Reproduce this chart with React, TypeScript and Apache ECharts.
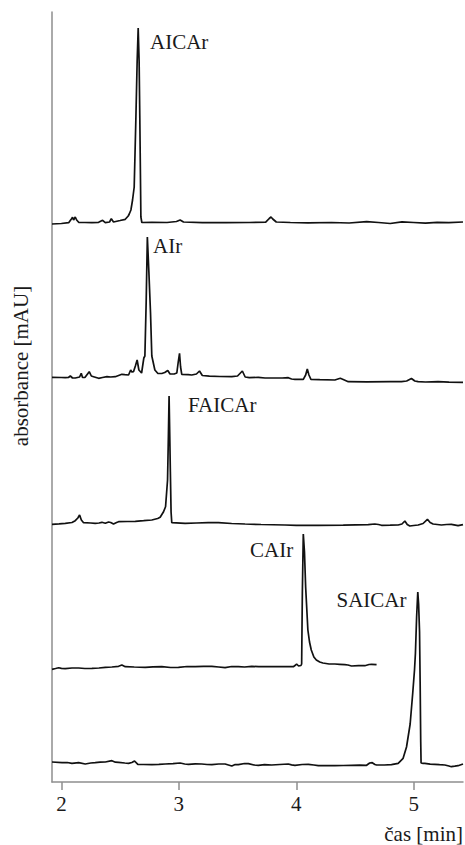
import React, { useEffect, useRef } from "react";
import * as echarts from "echarts";

// time axis [min]
const X_MIN = 1.92;
const X_MAX = 5.42;
const xTicks = [2, 3, 4, 5];
// stacked absorbance scale (arbitrary offset units)
const Y_MIN = 0;
const Y_MAX = 770;

const AICAr: [number, number][] = [
  [1.92, 558], [2.0, 558.5], [2.062, 559.3], [2.085, 563], [2.095, 564.7], [2.104, 562], [2.118, 565], [2.13, 562],
  [2.147, 559.7], [2.2, 559.5], [2.26, 559.3], [2.317, 559.7], [2.351, 561.7], [2.374, 559.3], [2.41, 560], [2.425, 563.3],
  [2.444, 560], [2.5, 561.5], [2.544, 562.7], [2.569, 566], [2.578, 568], [2.592, 572], [2.606, 582], [2.62, 595],
  [2.634, 662], [2.645, 720], [2.654, 754], [2.662, 720], [2.668, 662], [2.677, 565], [2.685, 559.5], [2.77, 559.7],
  [2.9, 559.5], [2.98, 560.5], [3.011, 562], [3.04, 560], [3.2, 559.3], [3.4, 559.3], [3.6, 559.5], [3.74, 559.8],
  [3.77, 563.5], [3.785, 565], [3.8, 563], [3.83, 560], [3.95, 559.5], [4.1, 559.2], [4.3, 559.5], [4.45, 559.0],
  [4.6, 560.3], [4.7, 559.5], [4.8, 558.5], [4.9, 560.2], [5.0, 559.5], [5.1, 558.8], [5.2, 559.7], [5.3, 559.3], [5.42, 560],
];

const AIr: [number, number][] = [
  [1.92, 404.7], [2.0, 404.5], [2.033, 404.3], [2.06, 404.5], [2.076, 406], [2.095, 404], [2.118, 404], [2.155, 405],
  [2.169, 408.7], [2.18, 404.5], [2.2, 404.5], [2.237, 410.3], [2.255, 406], [2.274, 405.3], [2.317, 403.7], [2.35, 404.5],
  [2.388, 405.3], [2.42, 405], [2.459, 405.3], [2.515, 407.7], [2.54, 407.3], [2.572, 407], [2.59, 412], [2.6, 410],
  [2.614, 410.3], [2.63, 416], [2.645, 422], [2.66, 412], [2.683, 409], [2.702, 424], [2.711, 426], [2.722, 480],
  [2.732, 545], [2.745, 510], [2.759, 469], [2.77, 426], [2.796, 412], [2.82, 408.7], [2.855, 408.5], [2.88, 409.5],
  [2.906, 411.5], [2.925, 408], [2.96, 408], [2.983, 409], [2.995, 420], [3.006, 428.7], [3.015, 415], [3.025, 407.7],
  [3.08, 407.3], [3.11, 407], [3.15, 408], [3.176, 411], [3.2, 406.5], [3.26, 405.8], [3.35, 405.5], [3.451, 405.3],
  [3.5, 406], [3.541, 411], [3.565, 405], [3.6, 404.3], [3.677, 404.7], [3.734, 404], [3.8, 404], [3.88, 404],
  [3.932, 404.3], [3.96, 403], [3.989, 402.7], [4.06, 402.7], [4.08, 407], [4.094, 413], [4.108, 407], [4.125, 402.7],
  [4.2, 402.3], [4.329, 402], [4.375, 403.7], [4.4, 402.5], [4.443, 400.3], [4.6, 400.2], [4.8, 400.3], [4.896, 400.3],
  [4.94, 401], [4.981, 403.5], [5.01, 401], [5.038, 400.3], [5.1, 400], [5.208, 400.3], [5.3, 399.8], [5.42, 399.7],
];

const FAICAr: [number, number][] = [
  [1.92, 257.7], [1.98, 258.2], [2.033, 258.7], [2.09, 259.5], [2.118, 261.3], [2.14, 264], [2.155, 267], [2.17, 262],
  [2.189, 259.3], [2.25, 259], [2.288, 258.7], [2.32, 259], [2.345, 259.7], [2.374, 258.7], [2.402, 260], [2.42, 259.5],
  [2.444, 258], [2.47, 259.5], [2.487, 260.3], [2.56, 260.5], [2.629, 260.7], [2.7, 261.3], [2.77, 262], [2.82, 263.5],
  [2.841, 264.7], [2.87, 270.3], [2.887, 275.3], [2.904, 302], [2.911, 345], [2.917, 386], [2.923, 345], [2.928, 310],
  [2.934, 270], [2.94, 259.3], [3.054, 258.7], [3.15, 259], [3.25, 259.3], [3.337, 259.3], [3.45, 258.5], [3.564, 258],
  [3.7, 257.5], [3.904, 257], [4.0, 256.7], [4.188, 256.7], [4.4, 256.8], [4.613, 257.3], [4.669, 258], [4.7, 257.5],
  [4.726, 256.7], [4.8, 256.8], [4.868, 257], [4.9, 258], [4.925, 261], [4.945, 257.5], [4.967, 256], [5.0, 256.5],
  [5.038, 257], [5.08, 258.5], [5.117, 262.7], [5.14, 259.5], [5.165, 258], [5.236, 257], [5.28, 257.5], [5.321, 257.7],
  [5.378, 256.3], [5.42, 257.3],
];

const CAIr: [number, number][] = [
  [1.92, 112.7], [1.95, 113.5], [1.977, 114.3], [2.0, 113.6], [2.033, 113.3], [2.09, 114], [2.147, 114], [2.2, 113.5],
  [2.26, 113.7], [2.32, 114], [2.374, 114.7], [2.43, 115], [2.487, 115.7], [2.515, 117], [2.544, 115.3], [2.62, 115],
  [2.714, 114.7], [2.78, 115.2], [2.855, 115.3], [2.93, 114.5], [2.997, 114.7], [3.07, 115.5], [3.139, 115.3], [3.21, 115.6],
  [3.281, 115.7], [3.34, 115], [3.394, 114.3], [3.45, 115.5], [3.507, 115.3], [3.56, 115], [3.621, 115.7], [3.68, 115.3],
  [3.734, 115.3], [3.82, 115.5], [3.904, 115.3], [3.975, 115.3], [3.995, 117], [4.003, 118], [4.02, 116], [4.04, 116.5],
  [4.046, 118], [4.052, 190], [4.06, 248], [4.07, 230], [4.08, 195], [4.099, 152], [4.113, 140], [4.128, 132],
  [4.15, 125], [4.171, 122], [4.2, 120], [4.227, 119], [4.28, 118], [4.329, 118], [4.37, 117.7], [4.414, 117.3],
  [4.44, 117], [4.471, 116], [4.53, 116.3], [4.584, 116.3], [4.62, 117.5], [4.641, 117.7], [4.684, 117.3],
];

const SAICAr: [number, number][] = [
  [1.92, 20], [2.005, 19.3], [2.05, 19.5], [2.09, 18.7], [2.147, 19.3], [2.203, 18], [2.25, 19], [2.288, 19.3],
  [2.33, 19.8], [2.374, 20], [2.43, 21.3], [2.46, 19.8], [2.487, 19.7], [2.54, 19], [2.572, 18.7], [2.6, 19.5],
  [2.623, 21], [2.651, 17.7], [2.7, 17.5], [2.77, 17.3], [2.83, 17.6], [2.884, 18], [2.95, 18.3], [3.011, 19],
  [3.05, 18], [3.082, 17.7], [3.14, 18.2], [3.195, 18], [3.24, 17.5], [3.281, 17.3], [3.34, 18], [3.394, 18],
  [3.451, 16], [3.48, 17.5], [3.507, 17.3], [3.56, 18.5], [3.592, 18.3], [3.64, 17], [3.677, 16.7], [3.73, 17.3],
  [3.791, 17], [3.86, 17.5], [3.932, 18], [3.96, 17.2], [3.989, 16.7], [4.05, 17.5], [4.103, 17.7], [4.15, 17],
  [4.188, 16.3], [4.26, 16.5], [4.329, 16.3], [4.4, 16.5], [4.471, 16.7], [4.54, 16.8], [4.599, 16.7], [4.625, 19],
  [4.647, 19.3], [4.67, 17.5], [4.684, 17], [4.75, 17], [4.811, 17.3], [4.868, 18.7], [4.91, 23.7], [4.939, 35],
  [4.97, 58], [4.992, 89], [5.007, 112], [5.015, 129], [5.025, 165], [5.035, 190], [5.042, 178], [5.05, 150],
  [5.055, 100], [5.06, 40], [5.063, 19], [5.08, 18.7], [5.095, 18.7], [5.14, 17.8], [5.18, 17.7], [5.22, 17.3],
  [5.265, 17], [5.3, 16], [5.321, 15.3], [5.35, 15.8], [5.378, 16.3], [5.42, 18],
];

const traceNames = ["AICAr", "AIr", "FAICAr", "CAIr", "SAICAr"];
const traceData = [AICAr, AIr, FAICAr, CAIr, SAICAr];

const yAxisTitle = "absorbance [mAU]";
const xAxisTitle = "čas [min]";

const FONT = "Liberation Serif";
const AXIS_COLOR = "#8e8e8e";
const TEXT_COLOR = "#1a1a1a";

export default function App() {
  const ref = useRef<HTMLDivElement>(null);

  useEffect(() => {
    document.body.style.margin = "0";
    if (!ref.current) return;
    const chart = echarts.init(ref.current, undefined, { renderer: "svg" });

    const labelPos = [
      { x: 150, y: 41.5 },
      { x: 153, y: 245.5 },
      { x: 188, y: 405 },
      { x: 250, y: 549.5 },
      { x: 336.5, y: 600 },
    ];

    const textStyle = (text: string, align: string) => ({
      text,
      fontFamily: FONT,
      fontSize: 21,
      fill: TEXT_COLOR,
      textAlign: align,
      textVerticalAlign: "middle",
    });

    const option: any = {
      animation: false,
      textStyle: { fontFamily: FONT },
      grid: { left: 52, right: 2, top: 12, bottom: 63 },
      xAxis: {
        type: "value",
        min: X_MIN,
        max: X_MAX,
        axisLine: { show: true, onZero: false, lineStyle: { color: AXIS_COLOR, width: 1.5 } },
        axisTick: {
          show: true,
          length: 8,
          inside: false,
          customValues: xTicks,
          lineStyle: { color: AXIS_COLOR, width: 1.5 },
        },
        axisLabel: {
          customValues: xTicks,
          margin: 11,
          fontFamily: FONT,
          fontSize: 21,
          color: TEXT_COLOR,
        },
        splitLine: { show: false },
      },
      yAxis: {
        type: "value",
        min: Y_MIN,
        max: Y_MAX,
        axisLine: { show: true, onZero: false, lineStyle: { color: AXIS_COLOR, width: 1.5 } },
        axisTick: { show: false },
        axisLabel: { show: false },
        splitLine: { show: false },
      },
      series: traceData.map((d, i) => ({
        type: "line",
        name: traceNames[i],
        data: d,
        symbol: "none",
        showSymbol: false,
        silent: true,
        lineStyle: { color: "#111", width: 1.7 },
      })),
      graphic: [
        ...traceNames.map((n, i) => ({
          type: "text",
          x: labelPos[i].x,
          y: labelPos[i].y,
          silent: true,
          style: textStyle(n, "left"),
        })),
        {
          type: "text",
          x: 21,
          y: 366,
          rotation: Math.PI / 2,
          silent: true,
          style: textStyle(yAxisTitle, "center"),
        },
        {
          type: "text",
          x: 463,
          y: 834,
          silent: true,
          style: textStyle(xAxisTitle, "right"),
        },
      ],
    };

    chart.setOption(option);
    return () => chart.dispose();
  }, []);

  return <div ref={ref} style={{ width: 465, height: 845 }} />;
}
